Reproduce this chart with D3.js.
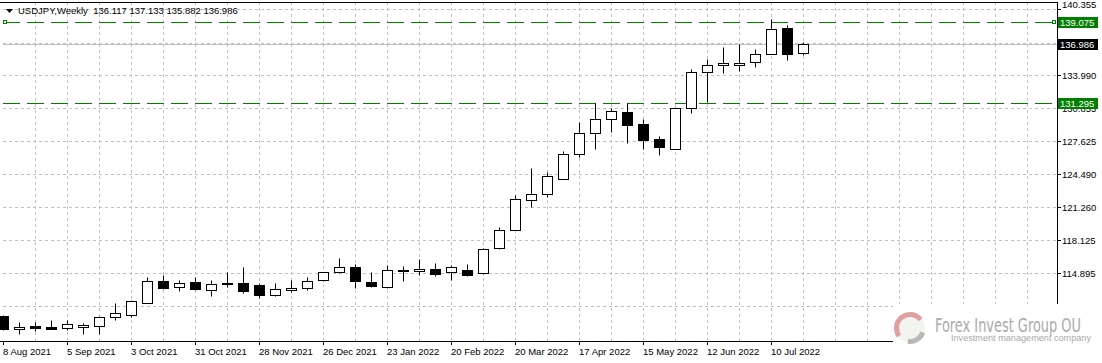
<!DOCTYPE html>
<html>
<head>
<meta charset="utf-8">
<script src="https://cdn.jsdelivr.net/npm/d3@7"></script>
<style>
  body { margin: 0; background: #fff; }
  svg { display: block; }
  text { font-family: "Liberation Sans", Arial, sans-serif; font-size: 9.5px; }
</style>
</head>
<body>
<div id="chart"></div>
<script>
// weekly USDJPY candles, first bar = week of 8 Aug 2021
const opens  = [110.70,109.45,109.74,109.71,109.61,109.67,109.83,110.63,110.83,112.02,114.14,113.56,114.07,113.27,113.97,113.97,113.69,112.75,113.23,113.46,114.23,114.97,115.49,114.07,113.52,115.20,115.10,115.29,115.00,115.20,114.91,117.32,119.05,121.94,122.51,123.96,126.37,128.39,129.74,130.41,129.28,127.84,126.90,130.79,134.26,134.93,134.93,135.22,135.99,138.50,136.117];
const highs  = [110.89,110.19,110.17,110.41,110.41,110.09,110.75,112.05,112.29,114.48,114.68,114.26,114.48,114.26,114.97,115.52,113.97,113.95,114.26,114.52,115.03,116.38,115.80,115.00,115.71,115.61,116.26,115.87,115.71,115.78,117.34,119.37,122.45,125.02,124.63,126.62,129.41,131.28,130.79,131.28,129.76,128.06,130.92,134.58,135.51,136.67,136.99,136.50,139.39,138.81,137.133];
const lows   = [109.40,109.06,109.31,109.45,109.35,109.04,109.04,110.41,110.63,112.00,113.35,113.14,113.25,112.66,113.52,112.94,112.50,112.72,113.04,113.23,114.17,114.89,113.46,113.52,113.46,114.10,114.74,114.65,114.26,114.58,114.84,117.25,119.00,121.22,122.19,123.94,126.13,126.88,128.54,127.48,126.88,126.23,126.83,130.37,131.43,134.22,134.41,134.74,135.97,135.44,135.882];
const closes = [109.52,109.71,109.55,109.48,109.93,109.90,110.67,110.99,112.21,114.14,113.43,113.95,113.33,113.88,113.85,113.14,112.75,113.37,113.46,114.14,114.97,115.49,114.10,113.62,115.16,115.06,115.29,114.84,115.49,114.68,117.22,119.05,122.03,122.51,124.25,126.37,128.39,129.74,130.53,129.12,127.74,127.00,130.79,134.26,134.96,135.13,135.13,136.02,138.40,135.99,136.986];

// date labels, one every 4 bars
const xTickLabels = ["8 Aug 2021","5 Sep 2021","3 Oct 2021","31 Oct 2021","28 Nov 2021","26 Dec 2021","23 Jan 2022","20 Feb 2022","20 Mar 2022","17 Apr 2022","15 May 2022","12 Jun 2022","10 Jul 2022"];
const yTicks = [140.355, 137.120, 133.990, 130.855, 127.625, 124.490, 121.260, 118.125, 114.895, 111.760];
const hLines = [139.075, 131.295];
const lastClose = 136.986;

const W = 1102, H = 363;
const plotR = 1057, plotB = 341;

const svg = d3.select("#chart").append("svg")
    .attr("width", W)
    .attr("height", H);

const x = d3.scaleLinear().domain([0, 66]).range([3, 3 + 16 * 66]);
const y = d3.scaleLinear().domain([114.895, 133.990]).range([273, 75]);
const py = v => Math.round(y(v)) + 0.5;

// grid
const grid = svg.append("g").attr("stroke", "#c0c0c0").attr("stroke-dasharray", "3,3");
grid.selectAll("line.v")
    .data(d3.range(2, 65, 2))
    .join("line")
    .attr("x1", d => x(d) + 0.5).attr("x2", d => x(d) + 0.5)
    .attr("y1", 2).attr("y2", plotB);
grid.selectAll("line.h")
    .data(yTicks)
    .join("line")
    .attr("x1", 3).attr("x2", plotR)
    .attr("y1", py).attr("y2", py);

// last price line
svg.append("line")
    .attr("x1", 3).attr("x2", plotR)
    .attr("y1", py(lastClose)).attr("y2", py(lastClose))
    .attr("stroke", "#c0c0c0");

// horizontal levels
svg.selectAll("line.level")
    .data(hLines)
    .join("line")
    .attr("x1", 3).attr("x2", plotR)
    .attr("y1", py).attr("y2", py)
    .attr("stroke", "#008000")
    .attr("stroke-dasharray", "17,7");
svg.selectAll("rect.anchor")
    .data([3, plotR - 5])
    .join("rect")
    .attr("x", d => d + 0.5).attr("y", py(hLines[0]) - 2)
    .attr("width", 3).attr("height", 3)
    .attr("fill", "#fff").attr("stroke", "#008000");

// candles
const bars = d3.range(opens.length);
const candles = svg.append("g");
candles.selectAll("line")
    .data(bars)
    .join("line")
    .attr("x1", i => x(i) + 0.5).attr("x2", i => x(i) + 0.5)
    .attr("y1", i => py(highs[i])).attr("y2", i => py(lows[i]))
    .attr("stroke", "#000");
candles.selectAll("rect")
    .data(bars)
    .join("rect")
    .attr("x", i => x(i) - 4.5)
    .attr("width", 10)
    .attr("y", i => py(Math.max(opens[i], closes[i])))
    .attr("height", i => py(Math.min(opens[i], closes[i])) - py(Math.max(opens[i], closes[i])))
    .attr("fill", i => closes[i] < opens[i] ? "#000" : "#fff")
    .attr("stroke", "#000");

// frame
svg.append("line").attr("x1", 0).attr("x2", plotR + 0.5).attr("y1", 2.5).attr("y2", 2.5).attr("stroke", "#000");
svg.append("line").attr("x1", plotR + 0.5).attr("x2", plotR + 0.5).attr("y1", 2).attr("y2", plotB + 1).attr("stroke", "#000");
svg.append("line").attr("x1", 0).attr("x2", plotR + 1).attr("y1", plotB + 0.5).attr("y2", plotB + 0.5).attr("stroke", "#000");

// price scale
const yAxis = svg.append("g");
yAxis.selectAll("line")
    .data(yTicks)
    .join("line")
    .attr("x1", plotR).attr("x2", plotR + 4)
    .attr("y1", py).attr("y2", py)
    .attr("stroke", "#000");
yAxis.selectAll("text")
    .data(yTicks)
    .join("text")
    .attr("x", plotR + 5)
    .attr("y", (d, i) => i === 0 ? 7.5 : py(d) + 3.5)
    .attr("fill", "#000")
    .text(d => d.toFixed(3));

// time scale
const xAxis = svg.append("g");
xAxis.selectAll("line")
    .data(xTickLabels)
    .join("line")
    .attr("x1", (d, i) => x(i * 4) + 0.5).attr("x2", (d, i) => x(i * 4) + 0.5)
    .attr("y1", plotB).attr("y2", plotB + 4)
    .attr("stroke", "#000");
xAxis.selectAll("text")
    .data(xTickLabels)
    .join("text")
    .attr("x", (d, i) => x(i * 4))
    .attr("y", 355)
    .attr("fill", "#000")
    .text(d => d);

// price tags
const tags = [
  {v: hLines[0], bg: "#008000"},
  {v: lastClose, bg: "#000"},
  {v: hLines[1], bg: "#008000"}
];
const tagG = svg.append("g");
tagG.selectAll("rect")
    .data(tags)
    .join("rect")
    .attr("x", plotR + 1).attr("y", d => py(d.v) - 5.5)
    .attr("width", 40).attr("height", 11)
    .attr("fill", d => d.bg);
tagG.selectAll("text")
    .data(tags)
    .join("text")
    .attr("x", plotR + 3).attr("y", d => py(d.v) + 3.5)
    .attr("fill", "#fff")
    .text(d => d.v.toFixed(3));

// title
svg.append("path").attr("d", "M6,9 L13,9 L9.5,13 Z").attr("fill", "#000");
svg.append("text")
    .attr("x", 18).attr("y", 14)
    .attr("fill", "#000")
    .style("white-space", "pre")
    .text("USDJPY,Weekly  " + [opens[50], highs[50], lows[50], closes[50]].map(d => d.toFixed(3)).join(" "));

// watermark
const wm = svg.append("g");
wm.append("rect").attr("x", 893).attr("y", 304).attr("width", 209).attr("height", 44).attr("fill", "#fff");
wm.append("circle").attr("cx", 910).attr("cy", 328).attr("r", 15).attr("fill", "#f3f3f0");
wm.append("path")
    .attr("transform", "translate(910,328)")
    .attr("d", d3.arc().innerRadius(11).outerRadius(16).startAngle(-2.2).endAngle(0.9)())
    .attr("fill", "#e0a0a0");
wm.append("path")
    .attr("transform", "translate(910,328)")
    .attr("d", d3.arc().innerRadius(11).outerRadius(16).startAngle(1.9).endAngle(3.3)())
    .attr("fill", "#b8b8b8");
wm.append("text")
    .attr("x", 935).attr("y", 332)
    .attr("fill", "#aaaaaa")
    .attr("textLength", 146).attr("lengthAdjust", "spacingAndGlyphs")
    .style("font-family", "'Liberation Sans Narrow', 'DejaVu Sans Condensed', sans-serif")
    .style("font-size", "19px")
    .text("Forex Invest Group OU");
wm.append("text")
    .attr("x", 951).attr("y", 341)
    .attr("fill", "#aaaaaa")
    .attr("textLength", 140).attr("lengthAdjust", "spacingAndGlyphs")
    .style("font-size", "9px")
    .text("Investment management company");
</script>
</body>
</html>
